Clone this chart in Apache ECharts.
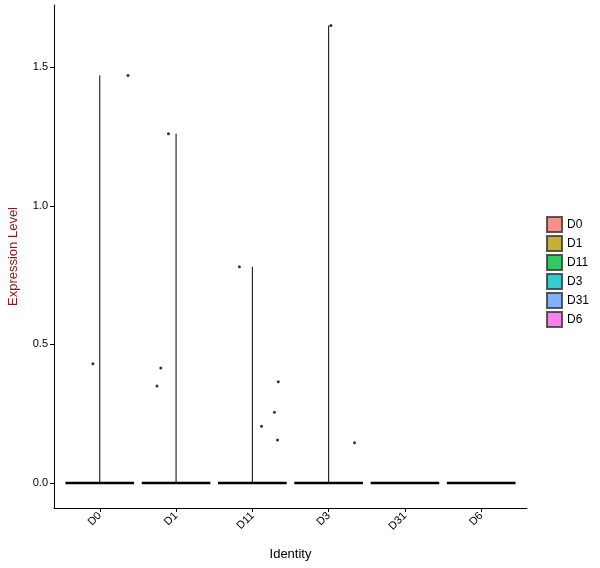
<!DOCTYPE html><html><head><meta charset="utf-8">
<script src="https://cdn.jsdelivr.net/npm/echarts@6/dist/echarts.min.js"></script>
<style>html,body{margin:0;background:#fff}#c{width:600px;height:568px}</style></head><body><div id="c"></div>
<script>
const categories=['D0','D1','D11','D3','D31','D6'];
const colors=['#F8766D','#B79F00','#00BA38','#00BFC4','#619CFF','#F564E3'];
const maxVals=[1.47,1.26,0.78,1.65,0,0];
const yTicks=[0,0.5,1.0,1.5];
// jitter points: [category index, x offset, value]
const points=[[0,-0.09,0.43],[0,0.37,1.47],[1,-0.1,1.26],[1,-0.2,0.415],[1,-0.25,0.35],
[2,-0.17,0.78],[2,0.34,0.365],[2,0.29,0.255],[2,0.12,0.205],[2,0.33,0.155],[3,0.03,1.65],[3,0.34,0.145]];
const series=[];
categories.forEach((c,i)=>{
  const x=i+1;
  series.push({type:'line',data:[[x-0.45,0],[x+0.45,0]],symbol:'none',lineStyle:{color:'#000',width:2.5},silent:true});
  if(maxVals[i]>0) series.push({type:'line',data:[[x,0],[x,maxVals[i]]],symbol:'none',lineStyle:{color:'#000',width:1},silent:true});
  series.push({name:c,type:'scatter',data:[],itemStyle:{color:colors[i],borderColor:'#333',borderWidth:0.6}});
});
series.push({type:'scatter',symbolSize:3,itemStyle:{color:'#000'},data:points.map(p=>[p[0]+1+p[1],p[2]])});
const ch=echarts.init(document.getElementById('c'));
ch.setOption({animation:false,
grid:{left:54,right:73,top:5,bottom:60,containLabel:false,outerBoundsMode:'none'},
legend:{orient:'vertical',left:541,top:211,itemWidth:15,itemHeight:15,itemGap:2,icon:'rect',
 data:categories,textStyle:{fontFamily:'Liberation Sans',fontSize:12,color:'#000'}},
xAxis:{type:'value',min:0.4,max:6.6,name:'Identity',nameLocation:'middle',nameGap:40,
 nameTextStyle:{fontFamily:'Liberation Sans',fontSize:13,color:'#000'},
 splitLine:{show:false},axisLine:{onZero:false,lineStyle:{color:'#000'}},
 axisTick:{customValues:[1,2,3,4,5,6],length:4,lineStyle:{color:'#000'}},
 axisLabel:{customValues:[1,2,3,4,5,6],rotate:45,formatter:v=>categories[Math.round(v)-1],
  fontFamily:'Liberation Sans',fontSize:11,color:'#000',margin:6}},
yAxis:{type:'value',min:-0.09,max:1.724,name:'Expression Level',nameLocation:'middle',nameGap:34,
 nameTextStyle:{fontFamily:'Liberation Sans',fontSize:13,color:'#8B1A1A'},
 splitLine:{show:false},axisLine:{show:true,onZero:false,lineStyle:{color:'#000'}},
 axisTick:{show:true,customValues:yTicks,length:4,lineStyle:{color:'#000'}},
 axisLabel:{customValues:yTicks,formatter:v=>v.toFixed(1),fontFamily:'Liberation Sans',fontSize:11,color:'#000',margin:6}},
series});
</script></body></html>
